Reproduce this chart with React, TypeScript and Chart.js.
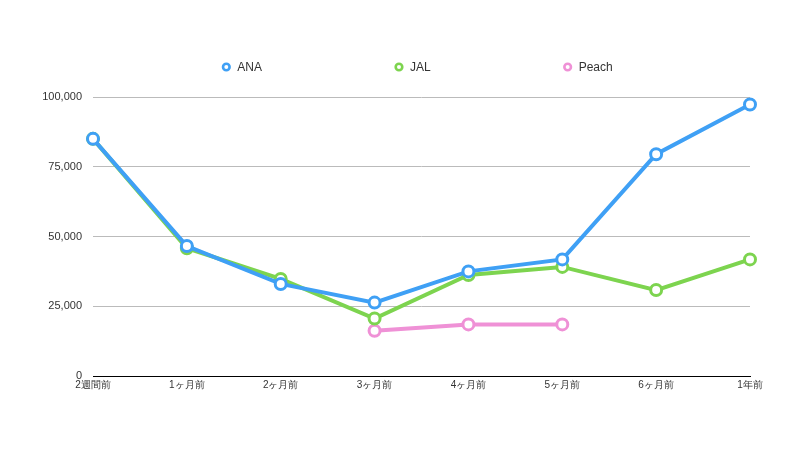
import React, { useEffect, useRef } from "react";
import { Chart, registerables } from "chart.js";

Chart.register(...registerables);

const categories = ["2週間前", "1ヶ月前", "2ヶ月前", "3ヶ月前", "4ヶ月前", "5ヶ月前", "6ヶ月前", "1年前"];
const anaValues = [85000, 46600, 33000, 26300, 37500, 41800, 79500, 97300];
const jalValues = [85000, 45800, 34800, 20600, 36200, 39100, 30800, 41800];
const peachValues = [null, null, null, 16200, 18500, 18500, null, null];
const yTicks = [0, 25000, 50000, 75000, 100000];

const FONT = "'Liberation Sans', Helvetica, Arial, sans-serif";

const legendPlugin = {
  id: "spreadLegend",
  afterDraw(chart: any) {
    const ctx = chart.ctx;
    const ca = chart.chartArea;
    const order = chart.data.datasets;
    ctx.save();
    ctx.font = `12px ${FONT}`;
    const markerW = 8;
    const markerGap = 7;
    const gap = 133;
    const widths = order.map((d: any) => markerW + markerGap + ctx.measureText(d.label).width);
    const total = widths.reduce((a: number, b: number) => a + b, 0) + gap * (order.length - 1);
    let x = (ca.left + ca.right) / 2 - total / 2 - 4;
    const y = 67;
    order.forEach((d: any, i: number) => {
      ctx.beginPath();
      ctx.arc(x + markerW / 2, y, 3.3, 0, Math.PI * 2);
      ctx.fillStyle = "#fff";
      ctx.fill();
      ctx.lineWidth = 2.6;
      ctx.strokeStyle = d.borderColor;
      ctx.stroke();
      ctx.fillStyle = "#333";
      ctx.textBaseline = "middle";
      ctx.textAlign = "left";
      ctx.fillText(d.label, x + markerW + markerGap, y + 1);
      x += widths[i] + gap;
    });
    ctx.restore();
  },
};

export default function App() {
  const ref = useRef<HTMLCanvasElement | null>(null);
  useEffect(() => {
    if (!ref.current) return;
    const mk = (label: string, data: (number | null)[], color: string) => ({
      label,
      data,
      borderColor: color,
      backgroundColor: "#ffffff",
      pointBackgroundColor: "#ffffff",
      pointBorderColor: color,
      borderWidth: 4,
      pointRadius: 5.5,
      pointBorderWidth: 3,
      pointStyle: "circle",
      tension: 0,
      spanGaps: false,
    });
    const chart = new Chart(ref.current, {
      type: "line",
      data: {
        labels: categories,
        datasets: [
          mk("ANA", anaValues, "#3fa0f5"),
          mk("JAL", jalValues, "#7dd44f"),
          mk("Peach", peachValues, "#ef91d6"),
        ] as any,
      },
      options: {
        animation: false,
        responsive: false,
        layout: { padding: { top: 97, right: 52, bottom: 0, left: 0 } },
        plugins: {
          legend: { display: false },
          tooltip: { enabled: false },
        },
        scales: {
          x: {
            grid: { display: false, drawTicks: false },
            border: { display: true, color: "#000", width: 1 },
            offset: false,
            ticks: {
              color: "#333",
              font: { family: FONT, size: 10 },
              padding: 3,
              maxRotation: 0,
              autoSkip: false,
            },
            afterFit: (s: any) => {
              s.height = 76;
            },
          },
          y: {
            min: 0,
            max: 100000,
            afterBuildTicks: (s: any) => {
              s.ticks = yTicks.map((v) => ({ value: v }));
            },
            grid: { color: "#bbbbbb", drawTicks: false, lineWidth: 1 },
            border: { display: false },
            ticks: {
              color: "#333",
              font: { family: FONT, size: 11 },
              padding: 11,
              callback: (v: any) => Number(v).toLocaleString("en-US"),
            },
            afterFit: (s: any) => {
              s.width = 93;
            },
          },
        },
      } as any,
      plugins: [legendPlugin],
    });
    return () => chart.destroy();
  }, []);
  return (
    <div style={{ position: "fixed", left: 0, top: 0, width: 802, height: 452, background: "#fff" }}>
      <canvas ref={ref} width={802} height={452} style={{ width: 802, height: 452 }} />
    </div>
  );
}
